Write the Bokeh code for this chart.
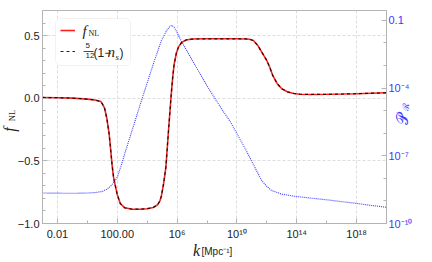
import math
from bokeh.plotting import figure
from bokeh.models import (Range1d, LogScale, LinearScale, LogAxis, FixedTicker, Label,
                          BoxAnnotation, Legend, LegendItem, ColumnDataSource)
from bokeh.embed import file_html
from bokeh.resources import INLINE

# ---------------- data ----------------
# log10(k [Mpc^-1]) and f_NL
logk_f = [-3, -2, -1, 0, 0.5, 0.9, 1.0, 1.15, 1.3, 1.45, 1.55, 1.65, 1.75, 1.87, 2.0, 2.2,
          2.5, 3.0, 3.5, 4.0, 4.4, 4.7, 4.85, 4.95, 5.1, 5.25, 5.4, 5.5, 5.6, 5.7, 5.8,
          5.95, 6.1, 6.3, 6.6, 7.0, 8.0, 9.0, 10.0, 10.6, 10.85, 11.1, 11.4, 11.7, 12.0,
          12.2, 12.4, 12.7, 13.0, 13.4, 13.8, 14.2, 15.0, 16.0, 17.0, 18.0, 19.0, 20.0]
f_nl = [0.006, 0.004, 0.001, -0.007, -0.014, -0.027, -0.045, -0.08, -0.16, -0.28, -0.40,
        -0.53, -0.63, -0.70, -0.77, -0.84, -0.875, -0.886, -0.886, -0.882, -0.872, -0.85,
        -0.82, -0.78, -0.68, -0.55, -0.30, -0.14, 0.02, 0.16, 0.27, 0.36, 0.41, 0.445,
        0.465, 0.472, 0.474, 0.474, 0.474, 0.473, 0.47, 0.46, 0.42, 0.36, 0.30, 0.245,
        0.18, 0.115, 0.075, 0.05, 0.038, 0.032, 0.03, 0.031, 0.033, 0.036, 0.04, 0.043]
# (5/12)(1 - n_s) follows f_NL on the plot
f_ns = list(f_nl)

# log10(k) and log10(P_R)
logk_p = [-3, -1, 0, 0.5, 1.0, 1.3, 1.55, 1.8, 2.0, 2.3, 2.5, 3.0, 3.5, 4.07, 4.5, 4.95,
          5.3, 5.5, 5.65, 5.8, 5.93, 6.26, 7.0, 8.0, 9.0, 9.55, 10.6, 11.64, 12.0, 12.3,
          13.0, 13.84, 15.0, 16.0, 17.0, 17.78, 19.0, 20.0]
logP = [-8.65, -8.66, -8.65, -8.63, -8.58, -8.48, -8.35, -8.15, -7.95, -7.35, -6.9,
        -5.85, -4.8, -3.62, -2.75, -1.89, -1.45, -1.28, -1.22, -1.3, -1.45, -1.89, -2.75,
        -3.9, -4.95, -5.48, -6.74, -8.08, -8.35, -8.53, -8.7, -8.79, -8.88, -8.95, -9.03,
        -9.09, -9.2, -9.28]

x_major = [1e-2, 1e2, 1e6, 1e10, 1e14, 1e18]
x_minor = [1e-3, 1e0, 1e4, 1e8, 1e12, 1e16, 1e20]
x_labels = {1e-2: "0.01", 1e2: "100.00", 1e6: "10\u2076", 1e10: "10\u00b9\u2070",
            1e14: "10\u00b9\u2074", 1e18: "10\u00b9\u2078"}
y_major = [-1.0, -0.5, 0.0, 0.5]
y_minor = [-1.0 + 0.1 * i for i in range(18)]
y_labels = {-1.0: "\u22121.0", -0.5: "\u22120.5", 0.0: "0.0", 0.5: "0.5"}
p_major = [1e-1, 1e-4, 1e-7, 1e-10]
p_minor = [10.0 ** (-i) for i in range(0, 11)]
p_labels = {1e-1: "0.1", 1e-4: "10\u207b\u2074", 1e-7: "10\u207b\u2077", 1e-10: "10\u207b\u00b9\u2070"}

# ---------------- figure ----------------
GRAY = "#b4b4b4"
BLUE = "#3a3aff"
FL, FR, FT, FB = 42, 386, 10, 223   # frame edges in page pixels
p = figure(width=432, height=262, x_axis_type="log", x_range=(1e-3, 1e20),
           y_range=(-1.0, 0.70), output_backend="svg", toolbar_location=None,
           min_border_left=FL, min_border_right=432 - FR, min_border_top=FT,
           min_border_bottom=262 - FB)
p.extra_y_ranges = {"P": Range1d(1e-10, 10 ** -0.56), "py": Range1d(FB, FT)}
p.extra_y_scales = {"P": LogScale(), "py": LinearScale()}
p.extra_x_ranges = {"px": Range1d(FL, FR)}
p.extra_x_scales = {"px": LinearScale()}
p.outline_line_color = GRAY
p.background_fill_color = "white"
p.border_fill_color = "white"

k_f = [10.0 ** v for v in logk_f]
k_p = [10.0 ** v for v in logk_p]
P = [10.0 ** v for v in logP]

src_f = ColumnDataSource(dict(k=k_f, f=f_nl, g=f_ns))
src_p = ColumnDataSource(dict(k=k_p, P=P))

r_red = p.line("k", "f", source=src_f, line_color="#ff1f1f", line_width=1.6)
r_dash = p.line("k", "g", source=src_f, line_color="#000000", line_width=1.2,
                line_dash="3 3", line_alpha=0.85)
r_blue = p.line("k", "P", source=src_p, y_range_name="P", line_color=BLUE,
                line_width=1.1, line_dash="1 1")

# axes
def style_axis(ax, color="#222222", standoff=-20):
    ax.axis_line_color = GRAY
    ax.major_tick_line_color = GRAY
    ax.minor_tick_line_color = GRAY
    ax.major_tick_in = 5
    ax.major_tick_out = 0
    ax.minor_tick_in = 3
    ax.minor_tick_out = 0
    ax.major_label_text_font = "Liberation Sans"
    ax.major_label_text_font_size = "11px"
    ax.major_label_text_color = color
    # blank axis label with negative standoff: leaves room for the label texts below
    ax.axis_label = " "
    ax.axis_label_text_font_size = "1px"
    ax.axis_label_standoff = standoff

style_axis(p.xaxis[0], standoff=-14)
style_axis(p.yaxis[0], standoff=-20)
p.xaxis[0].ticker = FixedTicker(ticks=x_major, minor_ticks=x_minor)
p.xaxis[0].major_label_overrides = x_labels
p.xaxis[0].major_label_standoff = 4
p.yaxis[0].ticker = FixedTicker(ticks=y_major, minor_ticks=y_minor)
p.yaxis[0].major_label_overrides = y_labels
p.yaxis[0].major_label_standoff = 3

pax = LogAxis(y_range_name="P", ticker=FixedTicker(ticks=p_major, minor_ticks=p_minor))
pax.major_label_overrides = p_labels
style_axis(pax, BLUE, standoff=-25)
pax.major_label_standoff = 2
p.add_layout(pax, "right")

# grids
p.xgrid.grid_line_color = "#dddddd"
p.xgrid.grid_line_dash = "3 2"
p.xgrid.ticker = FixedTicker(ticks=x_major)
p.ygrid.grid_line_color = "#dddddd"
p.ygrid.grid_line_dash = "3 2"
p.ygrid.ticker = FixedTicker(ticks=[-0.5, 0.0, 0.5])

# legend box
box = BoxAnnotation(left=13, right=88, top=205, bottom=158, left_units="screen",
                    right_units="screen", top_units="screen", bottom_units="screen",
                    fill_color="white", fill_alpha=1.0, line_color="#d4d4d4",
                    line_width=1, border_radius=5)
p.add_layout(box)

legend = Legend(items=[LegendItem(label=" ", renderers=[r_red]),
                       LegendItem(label=" ", renderers=[r_dash])],
                location=(18, 164), background_fill_alpha=0, border_line_color=None,
                padding=0, margin=0, glyph_width=15, glyph_height=16, label_height=16,
                spacing=5, label_standoff=0, label_width=1, label_text_font_size="1px")
p.add_layout(legend)

SERIF = "Liberation Serif"
SANS = "Liberation Sans"

def lab(x, y, t, size, font=SANS, style="normal", color="#222222", align="left",
        angle=0.0, baseline="middle", place=None):
    """x, y are page pixels (top-left origin) through the 'px'/'py' ranges."""
    l = Label(x=x, y=y, x_units="data", y_units="data", x_range_name="px",
              y_range_name="py", text=t, text_font=font, text_font_size=size,
              text_font_style=style, text_color=color, text_align=align,
              text_baseline=baseline, angle=angle)
    if place is None:
        p.add_layout(l)
    else:
        p.add_layout(l, place)

# legend texts
lab(82, 30, "f", "15px", SERIF, "italic")
lab(88, 33, "NL", "8px", SERIF)
lab(85, 45, "5", "8px")
lab(85, 55, "12", "8px")
lab(93, 52, "(1\u2212", "12px")
lab(107, 51, "n", "15px", SERIF, "italic")
lab(115, 56, "s", "9px", SERIF, "italic")
lab(119, 52, ")", "12px")
lab(83, 50, "\u2014", "10px")

# y-axis label f_NL (rotated), side panel so that it is not clipped
lab(9, 129, "f", "16px", SERIF, "italic", angle=math.pi / 2, align="center", place="left")
lab(11.5, 115, "NL", "8.5px", SERIF, angle=math.pi / 2, align="center", place="left")

# right axis label P_R (rotated)
lab(402, 118, "\U0001D4AB", "16px", SERIF, color=BLUE, angle=math.pi / 2,
    align="center", place="right")
lab(405, 106, "\u211B", "9px", SERIF, color=BLUE, angle=math.pi / 2,
    align="center", place="right")

# x-axis label
lab(196, 250, "k", "16px", SERIF, "italic", align="center", baseline="alphabetic",
    place="below")
lab(201, 251, "[Mpc\u207b\u00b9]", "10px", baseline="alphabetic", place="below")

open("out.html", "w").write(file_html(p, INLINE))
